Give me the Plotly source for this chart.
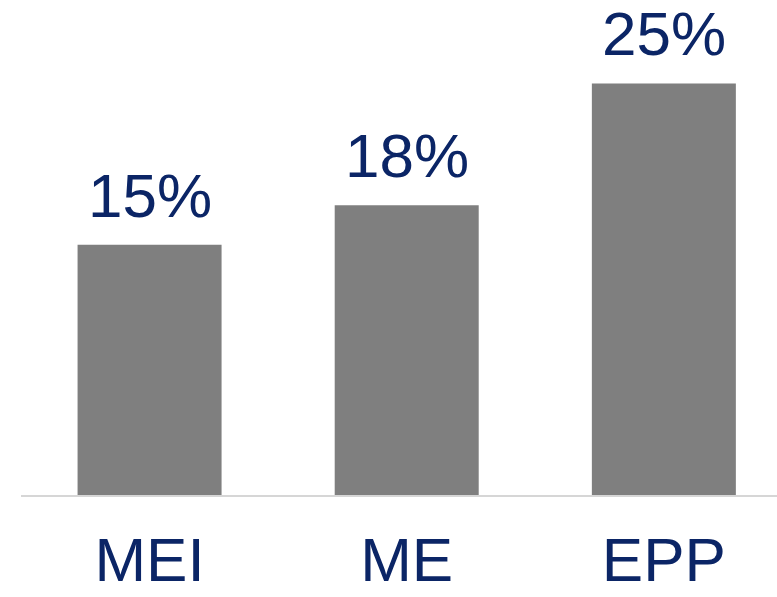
import plotly.graph_objects as go

categories = ["MEI", "ME", "EPP"]
values = [15.2, 17.6, 25.0]
value_labels = ["15%", "18%", "25%"]

BAR_COLOR = "#7F7F7F"
TEXT_COLOR = "#0B2566"
FONT = "Liberation Sans Narrow, Arial Narrow, Liberation Sans, Arial, sans-serif"

fig = go.Figure()
fig.add_trace(go.Bar(
    x=categories,
    y=values,
    marker=dict(color=BAR_COLOR, line=dict(width=0)),
    width=0.56,
    hoverinfo="skip",
))

for c, v, t in zip(categories, values, value_labels):
    fig.add_annotation(
        x=c, y=v, text=t, showarrow=False,
        xref="x", yref="y", yanchor="bottom", yshift=14,
        borderpad=0,
        font=dict(family=FONT, size=62, color=TEXT_COLOR),
    )

fig.update_layout(
    width=777, height=597,
    margin=dict(l=21, r=0, t=0, b=102, autoexpand=False),
    paper_bgcolor="white", plot_bgcolor="white",
    showlegend=False,
    xaxis=dict(
        type="category", range=[-0.5, 2.44],
        showline=True, linecolor="#D6D6D6", linewidth=2,
        showgrid=False, zeroline=False, ticks="",
        tickfont=dict(family=FONT, size=62, color=TEXT_COLOR),
        ticklabelstandoff=10, automargin=False,
    ),
    yaxis=dict(
        range=[0, 30.07], visible=False, showgrid=False, zeroline=False,
        automargin=False,
    ),
)

fig.write_html("out.html")
